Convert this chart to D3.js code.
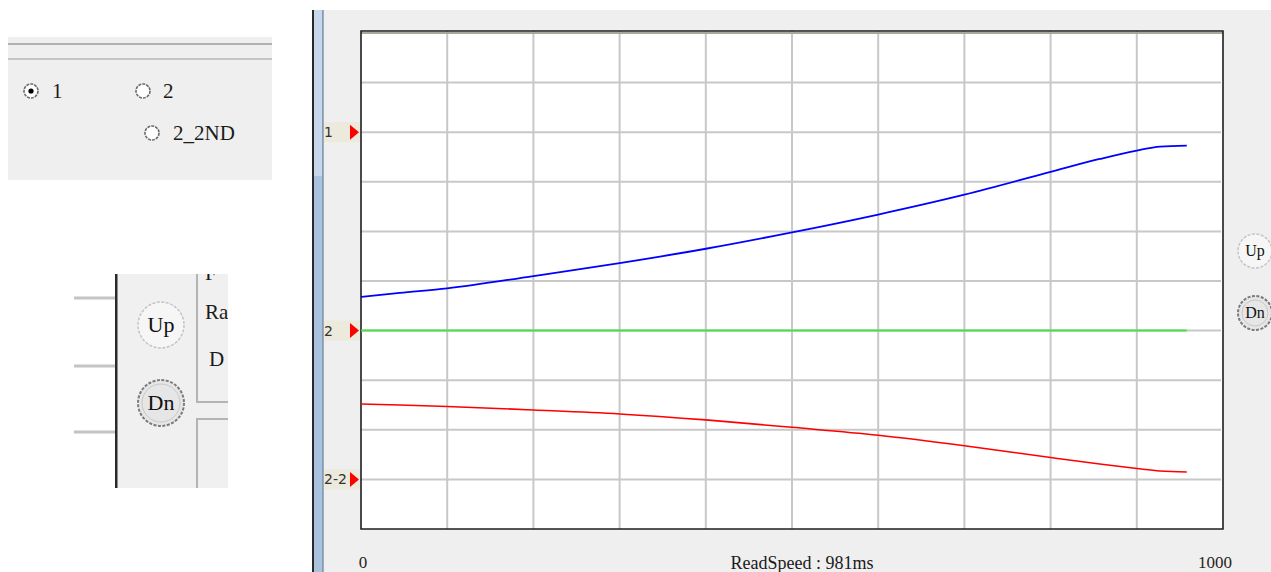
<!DOCTYPE html>
<html><head><meta charset="utf-8">
<script src="https://cdn.jsdelivr.net/npm/d3@7"></script>
<style>html,body{margin:0;padding:0;background:#fff;}svg{display:block;}</style>
</head><body>
<script>
// ---- data ----
const sampleIdx = [0, 45, 100, 200, 300, 400, 500, 600, 700, 800, 857, 900, 927, 958];
const blueVals  = [4.68, 4.76, 4.85, 5.10, 5.36, 5.65, 5.98, 6.34, 6.74, 7.20, 7.46, 7.63, 7.71, 7.73];
const greenVals = [4.0, 4.0, 4.0, 4.0, 4.0, 4.0, 4.0, 4.0, 4.0, 4.0, 4.0, 4.0, 4.0, 4.0];
const redVals   = [2.52, 2.50, 2.47, 2.40, 2.32, 2.20, 2.05, 1.89, 1.68, 1.44, 1.31, 1.22, 1.17, 1.15];
const markerVals = [8, 4, 1];
const markerLabels = ["1", "2", "2-2"];
const xTickVals = [0, 1000];
const xTickLabels = ["0", "1000"];
const statusText = "ReadSpeed : 981ms";
const radioLabels = ["1", "2", "2_2ND"];

const W = 1271, H = 572;
const svg = d3.select("body").append("svg").attr("width", W).attr("height", H);
svg.append("rect").attr("width", W).attr("height", H).attr("fill", "#fff");
const serif = "'Liberation Serif','Times New Roman',serif";

// ---- top-left radio panel ----
const tl = svg.append("g");
tl.append("rect").attr("x", 8).attr("y", 37).attr("width", 264).attr("height", 143).attr("fill", "#efefef");
tl.append("rect").attr("x", 8).attr("y", 43).attr("width", 264).attr("height", 2).attr("fill", "#b0b0b0");
tl.append("rect").attr("x", 8).attr("y", 58).attr("width", 264).attr("height", 2).attr("fill", "#c4c4c4");
const radios = [{cx: 31, cy: 91, tx: 52, sel: true}, {cx: 143, cy: 91, tx: 163, sel: false}, {cx: 152, cy: 133, tx: 173, sel: false}];
radios.forEach((r, i) => {
  tl.append("circle").attr("cx", r.cx).attr("cy", r.cy).attr("r", 7).attr("fill", "#fff").attr("stroke", "#6a6a6a").attr("stroke-width", 1.6).attr("stroke-dasharray", "3,1");
  if (r.sel) tl.append("circle").attr("cx", r.cx).attr("cy", r.cy).attr("r", 2.6).attr("fill", "#000");
  tl.append("text").attr("x", r.tx).attr("y", r.cy + 7).attr("font-family", serif).attr("font-size", 21).attr("fill", "#1a1a1a").text(radioLabels[i]);
});

// ---- left Up/Dn panel ----
const lp = svg.append("g");
const clip = svg.append("clipPath").attr("id", "lpclip");
clip.append("rect").attr("x", 60).attr("y", 274).attr("width", 168).attr("height", 214);
lp.attr("clip-path", "url(#lpclip)");
lp.append("rect").attr("x", 117).attr("y", 274).attr("width", 111).attr("height", 214).attr("fill", "#f0f0f0");
[298, 366, 432].forEach(y => lp.append("rect").attr("x", 74).attr("y", y - 1.5).attr("width", 41).attr("height", 3).attr("fill", "#c4c4c4"));
lp.append("rect").attr("x", 115).attr("y", 274).attr("width", 2.5).attr("height", 214).attr("fill", "#2a2a2a");
lp.append("path").attr("d", "M197,274 V402 H228").attr("fill", "none").attr("stroke", "#b4b4b4").attr("stroke-width", 2);
lp.append("path").attr("d", "M197,488 V419 H228").attr("fill", "none").attr("stroke", "#b4b4b4").attr("stroke-width", 2);
lp.append("text").attr("x", 205).attr("y", 319).attr("font-family", serif).attr("font-size", 21).attr("fill", "#1a1a1a").text("Ra");
lp.append("text").attr("x", 209).attr("y", 366).attr("font-family", serif).attr("font-size", 21).attr("fill", "#1a1a1a").text("D");
lp.append("text").attr("x", 205).attr("y", 280).attr("font-family", serif).attr("font-size", 21).attr("fill", "#1a1a1a").text("F");
function button(g, cx, cy, r, label, fs, dark) {
  g.append("circle").attr("cx", cx).attr("cy", cy).attr("r", r).attr("fill", dark ? "#e6e6e6" : "#f6f6f6")
    .attr("stroke", dark ? "#7a7a7a" : "#c4c4c4").attr("stroke-width", dark ? 2 : 1.5).attr("stroke-dasharray", "3,1.5");
  if (dark) g.append("circle").attr("cx", cx).attr("cy", cy).attr("r", r - 4).attr("fill", "none").attr("stroke", "#c8c8c8").attr("stroke-width", 1);
  g.append("text").attr("x", cx).attr("y", cy + fs * 0.33).attr("text-anchor", "middle").attr("font-family", serif).attr("font-size", fs).attr("fill", "#111").text(label);
}
button(lp, 161, 325, 23, "Up", 22, false);
button(lp, 161, 403, 23, "Dn", 22, true);

// ---- chart panel ----
const cp = svg.append("g");
cp.append("rect").attr("x", 312).attr("y", 10).attr("width", W - 312).attr("height", H - 10).attr("fill", "#efefef");
cp.append("rect").attr("x", 312).attr("y", 10).attr("width", 12).attr("height", H - 10).attr("fill", "#a9c2dd");
cp.append("rect").attr("x", 314).attr("y", 10).attr("width", 8).attr("height", 166).attr("fill", "#c6d8ea");
cp.append("rect").attr("x", 312).attr("y", 10).attr("width", 2).attr("height", H - 10).attr("fill", "#2a2a2a");
cp.append("rect").attr("x", 322).attr("y", 10).attr("width", 1.5).attr("height", H - 10).attr("fill", "#8a9aaa");

const pL = 361, pR = 1223, pT = 31, pB = 529;
const x = d3.scaleLinear().domain([0, 1000]).range([pL, pR]);
const y = d3.scaleLinear().domain([0, 10]).range([pB, 33]);

cp.append("rect").attr("x", pL).attr("y", pT).attr("width", pR - pL).attr("height", pB - pT).attr("fill", "#fff");
const grid = cp.append("g");
d3.range(100, 1000, 100).forEach(v => grid.append("line").attr("x1", x(v)).attr("x2", x(v)).attr("y1", pT).attr("y2", pB).attr("stroke", "#c8c8c8").attr("stroke-width", 2));
d3.range(1, 10).forEach(v => grid.append("line").attr("x1", pL).attr("x2", pR - 2).attr("y1", y(v)).attr("y2", y(v)).attr("stroke", "#c8c8c8").attr("stroke-width", 2));
// border
cp.append("rect").attr("x", pL).attr("y", pT + 1).attr("width", pR - pL).attr("height", 2).attr("fill", "#a8a89a");
cp.append("path").attr("d", `M${pL},${pB} V${pT} H${pR} V${pB} Z`).attr("fill", "none").attr("stroke", "#1e1e1e").attr("stroke-width", 1.6);

// series
const line = d3.line().x((d, i) => x(sampleIdx[i])).y(d => y(d)).curve(d3.curveMonotoneX);
cp.append("path").datum(greenVals).attr("d", line).attr("fill", "none").attr("stroke", "#44e044").attr("stroke-width", 2);
cp.append("path").datum(redVals).attr("d", line).attr("fill", "none").attr("stroke", "#ff0000").attr("stroke-width", 1.6);
cp.append("path").datum(blueVals).attr("d", line).attr("fill", "none").attr("stroke", "#0000ff").attr("stroke-width", 1.8);

// markers
markerVals.forEach((v, i) => {
  const yy = y(v);
  cp.append("rect").attr("x", 324).attr("y", yy - 10).attr("width", 36).attr("height", 20).attr("fill", "#ece9dd");
  cp.append("text").attr("x", 324).attr("y", yy + 5).attr("font-family", "'DejaVu Sans',sans-serif").attr("font-size", 14).attr("fill", "#333").text(markerLabels[i]);
  cp.append("path").attr("d", `M350,${yy - 7.5} L359,${yy} L350,${yy + 7.5} Z`).attr("fill", "#ff0000");
});

// x labels
xTickVals.forEach((v, i) => {
  cp.append("text").attr("x", x(v) + (i === 0 ? 2 : -8)).attr("y", 568).attr("text-anchor", "middle").attr("font-family", serif).attr("font-size", 17).attr("fill", "#2a2218").text(xTickLabels[i]);
});
cp.append("text").attr("x", 802).attr("y", 569).attr("text-anchor", "middle").attr("font-family", serif).attr("font-size", 18).attr("fill", "#1a1a1a").text(statusText);

// right buttons
button(cp, 1255, 251, 17, "Up", 16, false);
button(cp, 1255, 313, 17, "Dn", 16, true);
</script>
</body></html>
